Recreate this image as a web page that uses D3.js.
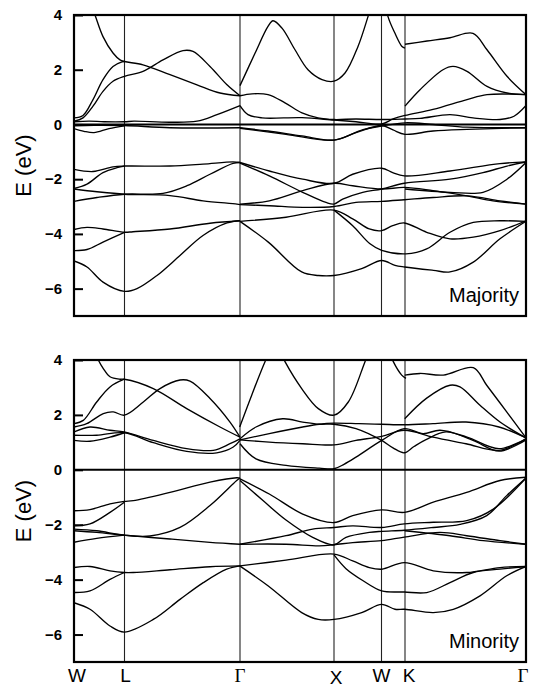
<!DOCTYPE html>
<html>
<head>
<meta charset="utf-8">
<script src="https://cdn.jsdelivr.net/npm/d3@7"></script>
<style>
body { margin: 0; background: #fff; }
svg { display: block; }
</style>
</head>
<body>
<script>
var w = 536, h = 688;

// high symmetry points along the path
var kPoints = [0, 0.505, 1.66, 2.60, 3.075, 3.31, 4.52];
var kLabels = ["W", "L", "\u0393", "X", "W", "K", "\u0393"];
var eTicks = [4, 2, 0, -2, -4, -6];
var eRange = [-7, 4];

// bands, each one a list of [k, E(eV)]
var majorityBands = [
  [[0.15,4.6],[0.21,4.0],[0.29,3.21],[0.39,2.61],[0.46,2.36],[0.505,2.30],[0.69,2.18],[0.96,1.82],[1.23,1.45],[1.46,1.15],[1.66,1.05]],
  [[0,0.24],[0.09,0.33],[0.19,0.91],[0.29,1.64],[0.39,2.12],[0.48,2.29],[0.505,2.30]],
  [[0,0.12],[0.09,0.24],[0.19,0.67],[0.29,1.21],[0.39,1.58],[0.505,1.76],[0.69,1.94],[0.89,2.36],[1.09,2.70],[1.19,2.67],[1.36,2.12],[1.53,1.45],[1.66,1.05]],
  [[0,0.10],[0.15,0.12],[0.3,0.10],[0.505,0.10],[0.6,0.12],[0.96,0.08],[1.23,0.12],[1.43,0.36],[1.66,0.69]],
  [[0,-0.05],[0.2,-0.03],[0.505,-0.04],[0.96,-0.12],[1.66,-0.12]],
  [[0,-0.15],[0.1,-0.25],[0.2,-0.3],[0.35,-0.15],[0.505,-0.05]],
  [[0,-1.64],[0.19,-1.72],[0.39,-1.55],[0.505,-1.52],[0.96,-1.52],[1.29,-1.45],[1.59,-1.37],[1.66,-1.39]],
  [[0,-2.34],[0.13,-2.18],[0.29,-1.76],[0.43,-1.58],[0.505,-1.52]],
  [[0,-2.36],[0.23,-2.46],[0.505,-2.55],[0.96,-2.6],[1.29,-2.79],[1.63,-2.91],[1.66,-2.93]],
  [[0,-2.81],[0.23,-2.67],[0.505,-2.55],[0.89,-2.52],[1.13,-2.24],[1.36,-1.82],[1.59,-1.42],[1.66,-1.39]],
  [[0,-3.84],[0.13,-3.76],[0.29,-3.82],[0.505,-3.94],[0.59,-3.92],[0.96,-3.82],[1.36,-3.61],[1.66,-3.52]],
  [[0,-4.61],[0.13,-4.57],[0.29,-4.3],[0.505,-3.94]],
  [[0,-4.99],[0.13,-5.21],[0.29,-5.76],[0.505,-6.1],[0.63,-6.0],[0.83,-5.52],[1.06,-4.79],[1.29,-4.06],[1.53,-3.6],[1.66,-3.52]],
  [[1.66,1.42],[1.81,2.6],[1.94,3.58],[1.99,3.79],[2.08,3.52],[2.21,2.73],[2.34,2.0],[2.48,1.64],[2.60,1.58],[2.71,1.88],[2.84,2.85],[2.94,3.94],[3.01,4.8],[3.09,4.9],[3.14,3.94],[3.21,3.33],[3.28,2.85],[3.31,2.79]],
  [[3.31,2.93],[3.53,3.05],[3.76,3.17],[3.99,3.33],[4.13,2.73],[4.33,1.76],[4.52,1.09]],
  [[3.31,0.67],[3.46,1.27],[3.69,2.0],[3.79,2.12],[3.93,1.94],[4.13,1.39],[4.33,1.15],[4.52,1.09]],
  [[1.66,1.05],[1.78,1.12],[1.94,1.09],[2.11,0.79],[2.28,0.42],[2.44,0.24],[2.60,0.18],[2.82,0.2],[3.077,0.18],[3.31,0.2],[3.46,0.22],[3.76,0.36],[3.99,0.24],[4.26,0.18],[4.40,0.3],[4.52,0.69]],
  [[1.66,0.69],[1.74,0.36],[1.88,0.24],[2.28,0.25],[2.60,0.16],[2.82,0.10],[3.077,0.02],[3.19,0.2],[3.31,0.33],[3.59,0.55],[3.93,0.91],[4.13,1.09],[4.52,1.09]],
  [[1.66,-0.12],[1.94,-0.24],[2.28,-0.42],[2.60,-0.57],[2.82,-0.30],[3.077,-0.04],[3.19,-0.2],[3.31,-0.36],[3.59,-0.24],[3.93,-0.18],[4.52,-0.12]],
  [[1.66,-0.14],[2.12,-0.36],[2.60,-0.57],[2.89,-0.19],[3.077,-0.06],[3.31,0.06],[3.59,0.0],[3.93,-0.1],[4.52,-0.12]],
  [[1.66,-1.39],[1.953,-1.70],[2.287,-2.0],[2.60,-2.15],[2.787,-1.82],[3.077,-1.6],[3.187,-1.76],[3.303,-1.88],[3.76,-1.70],[4.26,-1.43],[4.52,-1.37]],
  [[1.66,-1.41],[1.953,-1.88],[2.287,-2.48],[2.52,-2.85],[2.60,-2.91],[2.687,-2.73],[2.887,-2.48],[3.077,-2.36],[3.303,-2.15],[3.76,-2.0],[4.09,-1.76],[4.33,-1.52],[4.52,-1.37]],
  [[1.66,-2.91],[1.953,-2.79],[2.287,-2.42],[2.60,-2.15],[2.787,-2.24],[3.077,-2.36],[3.303,-2.30],[3.59,-2.42],[3.93,-2.61],[4.19,-2.79],[4.52,-2.91]],
  [[3.31,-2.36],[3.76,-2.48],[4.09,-2.48],[4.33,-2.0],[4.52,-1.39]],
  [[1.66,-2.93],[1.953,-2.97],[2.287,-3.03],[2.60,-3.0],[2.82,-2.85],[3.077,-2.81],[3.303,-2.75],[3.59,-2.67],[3.93,-2.61],[4.26,-2.79],[4.52,-2.91]],
  [[1.66,-3.54],[2.12,-3.39],[2.60,-3.13],[2.787,-3.45],[2.953,-3.82],[3.077,-3.88],[3.187,-3.70],[3.303,-3.6],[3.527,-3.94],[3.76,-4.18],[3.993,-4.12],[4.26,-3.88],[4.52,-3.52]],
  [[2.60,-3.13],[2.787,-3.7],[2.96,-4.36],[3.077,-4.6],[3.32,-4.73],[3.527,-4.55],[3.76,-3.94],[3.993,-3.58],[4.26,-3.52],[4.52,-3.54]],
  [[1.66,-3.54],[1.943,-4.3],[2.277,-5.39],[2.443,-5.52],[2.60,-5.52],[2.877,-5.27],[3.077,-4.97],[3.21,-5.15],[3.307,-5.21],[3.593,-5.33],[3.76,-5.39],[3.993,-5.03],[4.26,-4.18],[4.52,-3.54]]
];

var minorityBands = [
  [[0.18,4.6],[0.243,4.0],[0.293,3.69],[0.36,3.39],[0.46,3.30],[0.503,3.30],[0.793,2.96],[1.127,2.23],[1.46,1.56],[1.66,1.19]],
  [[0,1.68],[0.093,1.80],[0.227,2.47],[0.36,3.02],[0.503,3.30]],
  [[0,1.56],[0.127,1.68],[0.293,2.05],[0.393,2.11],[0.503,1.99],[0.693,2.47],[0.86,2.96],[1.06,3.27],[1.16,3.23],[1.36,2.60],[1.56,1.74],[1.66,1.19]],
  [[0,1.38],[0.16,1.56],[0.36,1.44],[0.503,1.38],[0.793,1.07],[1.127,0.77],[1.393,0.71],[1.56,0.95],[1.66,1.13]],
  [[0,1.26],[0.227,1.26],[0.503,1.35],[0.793,0.99],[1.127,0.67],[1.427,0.62],[1.593,0.83],[1.66,1.07]],
  [[0,1.07],[0.16,1.04],[0.36,1.19],[0.503,1.35]],
  [[0,-1.49],[0.16,-1.45],[0.36,-1.24],[0.503,-1.15],[0.593,-1.12],[0.96,-0.82],[1.36,-0.45],[1.627,-0.29],[1.66,-0.30]],
  [[0,-2.04],[0.16,-1.97],[0.36,-1.55],[0.503,-1.18]],
  [[0,-2.16],[0.227,-2.22],[0.503,-2.38],[0.76,-2.41],[1.06,-2.10],[1.36,-1.30],[1.627,-0.39],[1.66,-0.30]],
  [[0,-2.22],[0.227,-2.28],[0.503,-2.38],[0.96,-2.52],[1.36,-2.64],[1.66,-2.71]],
  [[0,-2.64],[0.227,-2.50],[0.503,-2.38]],
  [[0,-3.56],[0.16,-3.52],[0.36,-3.68],[0.503,-3.74],[0.593,-3.74],[0.96,-3.64],[1.36,-3.53],[1.66,-3.50]],
  [[0,-4.47],[0.16,-4.41],[0.36,-3.99],[0.503,-3.74]],
  [[0,-4.84],[0.16,-5.08],[0.36,-5.69],[0.503,-5.91],[0.793,-5.45],[1.06,-4.72],[1.293,-4.11],[1.527,-3.62],[1.66,-3.50]],
  [[1.657,1.56],[1.777,2.72],[1.91,3.94],[2.01,4.7],[2.11,3.94],[2.277,2.96],[2.443,2.23],[2.60,1.99],[2.743,2.47],[2.91,3.94],[3.0,4.8],[3.1,4.8],[3.193,3.94],[3.277,3.45],[3.32,3.33]],
  [[3.307,3.45],[3.46,3.51],[3.693,3.45],[3.993,3.72],[4.127,3.08],[4.327,2.11],[4.52,1.16]],
  [[3.307,1.86],[3.527,2.61],[3.76,3.08],[3.86,3.02],[4.06,2.35],[4.26,1.74],[4.52,1.16]],
  [[1.66,1.13],[1.82,1.56],[2.087,1.86],[2.287,1.74],[2.453,1.66],[2.60,1.66],[2.82,1.5],[3.077,1.07],[3.19,0.8],[3.303,0.62],[3.40,0.85],[3.52,1.1],[3.72,1.38],[3.99,1.07],[4.25,0.68],[4.52,1.09]],
  [[1.66,1.09],[1.953,1.32],[2.287,1.56],[2.453,1.66],[2.60,1.70],[2.85,1.68],[3.077,1.66],[3.303,1.64],[3.59,1.68],[3.92,1.74],[4.25,1.56],[4.52,1.16]],
  [[1.66,1.09],[1.953,1.01],[2.287,0.95],[2.60,0.91],[2.82,1.07],[3.077,1.22],[3.303,1.44],[3.59,1.19],[3.92,0.95],[4.25,0.71],[4.52,1.13]],
  [[1.66,0.95],[1.82,0.40],[2.12,0.16],[2.453,0.06],[2.60,0.04],[2.70,0.2],[2.82,0.46],[3.077,1.07],[3.303,1.5],[3.49,1.32],[3.66,1.44],[3.93,1.19],[4.25,0.77],[4.52,1.13]],
  [[1.66,-0.33],[1.953,-0.88],[2.287,-1.61],[2.60,-1.92],[2.787,-1.67],[3.077,-1.46],[3.303,-1.55],[3.593,-1.18],[3.927,-0.82],[4.26,-0.39],[4.52,-0.27]],
  [[1.66,-0.39],[1.887,-1.11],[2.12,-1.83],[2.387,-2.46],[2.60,-2.73],[2.72,-2.46],[2.953,-2.28],[3.077,-2.24],[3.303,-2.2],[3.593,-2.10],[3.86,-1.99],[4.127,-1.67],[4.327,-0.94],[4.52,-0.30]],
  [[1.66,-2.71],[2.12,-2.40],[2.387,-2.16],[2.60,-2.10],[2.787,-2.04],[3.077,-2.10],[3.303,-1.97],[3.593,-1.91],[3.927,-1.85],[4.193,-1.43],[4.52,-0.30]],
  [[1.66,-2.71],[2.12,-2.71],[2.453,-2.77],[2.60,-2.73],[2.787,-2.65],[3.077,-2.58],[3.303,-2.45],[3.66,-2.28],[3.927,-2.40],[4.26,-2.58],[4.52,-2.71]],
  [[3.307,-2.22],[3.76,-2.40],[4.093,-2.58],[4.52,-2.71]],
  [[1.66,-3.50],[2.12,-3.29],[2.60,-3.07],[2.787,-3.32],[2.953,-3.56],[3.077,-3.62],[3.303,-3.38],[3.593,-3.68],[3.927,-3.74],[4.26,-3.56],[4.52,-3.52]],
  [[2.60,-3.10],[2.72,-3.6],[2.887,-4.03],[3.077,-4.41],[3.303,-4.45],[3.527,-4.47],[3.76,-4.11],[3.993,-3.74],[4.26,-3.62],[4.52,-3.52]],
  [[1.657,-3.50],[1.943,-4.23],[2.277,-5.20],[2.443,-5.45],[2.60,-5.45],[2.877,-5.2],[3.077,-4.9],[3.21,-5.08],[3.307,-5.08],[3.593,-5.20],[3.793,-5.08],[4.06,-4.59],[4.327,-3.86],[4.52,-3.52]]
];

var svg = d3.select("body").append("svg")
    .attr("width", w)
    .attr("height", h)
    .style("background", "#fff");

var x = d3.scaleLinear().domain([kPoints[0], kPoints[kPoints.length-1]]).range([74, 526]);

function drawPanel(bands, top, bottom, name, id){
    var y = d3.scaleLinear().domain(eRange).range([bottom, top]);
    var g = svg.append("g");

    g.append("clipPath").attr("id", id)
      .append("rect")
      .attr("x", x.range()[0]).attr("y", top)
      .attr("width", x.range()[1]-x.range()[0]).attr("height", bottom-top);

    // k-point verticals
    g.selectAll("line.kp")
      .data(kPoints.slice(1, -1))
      .enter().append("line")
      .attr("class", "kp")
      .attr("x1", function(d){return x(d);}).attr("x2", function(d){return x(d);})
      .attr("y1", top).attr("y2", bottom)
      .style("stroke", "#222")
      .style("stroke-width", 1.1);

    var line = d3.line()
      .x(function(d){return x(d[0]);})
      .y(function(d){return y(d[1]);})
      .curve(d3.curveCatmullRom.alpha(0.5));

    g.append("g").attr("clip-path", "url(#" + id + ")")
      .selectAll("path")
      .data(bands)
      .enter().append("path")
      .attr("d", line)
      .style("fill", "none")
      .style("stroke", "#000")
      .style("stroke-width", 1.35);

    // fermi level
    g.append("line")
      .attr("x1", x.range()[0]).attr("x2", x.range()[1])
      .attr("y1", y(0)).attr("y2", y(0))
      .style("stroke", "#000").style("stroke-width", 2);

    var axis = d3.axisLeft(y).tickValues(eTicks).tickSize(-9).tickPadding(12);
    var ax = g.append("g")
      .attr("transform", "translate(" + x.range()[0] + ",0)")
      .call(axis);
    ax.select(".domain").remove();
    ax.selectAll(".tick line").style("stroke", "#000").style("stroke-width", 2);
    ax.selectAll(".tick text")
      .style("font-family", "'Liberation Sans', Arial, sans-serif")
      .style("font-size", "15px")
      .style("font-weight", "bold")
      .style("fill", "#000");

    g.append("rect")
      .attr("x", x.range()[0]).attr("y", top)
      .attr("width", x.range()[1]-x.range()[0]).attr("height", bottom-top)
      .style("fill", "none").style("stroke", "#000").style("stroke-width", 2.2);

    g.append("text")
      .attr("transform", "translate(31," + ((top+bottom)/2) + ") rotate(-90)")
      .attr("text-anchor", "middle")
      .style("font-family", "'Liberation Sans', Arial, sans-serif")
      .style("font-size", "22px")
      .text("E (eV)");

    g.append("text")
      .attr("x", 519).attr("y", bottom - 14)
      .attr("text-anchor", "end")
      .style("font-family", "'Liberation Sans', Arial, sans-serif")
      .style("font-size", "20px")
      .text(name);
    return y;
}

drawPanel(majorityBands, 15, 316, "Majority", "clipMaj");
drawPanel(minorityBands, 360, 662, "Minority", "clipMin");

var labelShift = [3, 1, 0, 2, 0, 4, -3];
svg.selectAll("text.klab")
  .data(kLabels)
  .enter().append("text")
  .attr("class", "klab")
  .attr("x", function(d, i){return x(kPoints[i]) + labelShift[i];})
  .attr("y", function(d){return d == "X" ? 684 : 682;})
  .attr("text-anchor", "middle")
  .style("font-family", function(d){return d == "\u0393" ? "'Liberation Serif', serif" : "'Liberation Sans', Arial, sans-serif";})
  .style("font-size", "19px")
  .text(function(d){return d;});
</script>
</body>
</html>
